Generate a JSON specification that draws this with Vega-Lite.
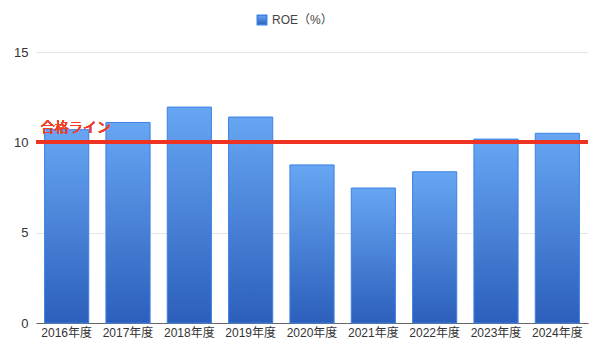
{
  "$schema": "https://vega.github.io/schema/vega-lite/v6.json",
  "autosize": "none",
  "width": 552,
  "height": 271,
  "padding": {"left": 36, "top": 52, "right": 12, "bottom": 30},
  "background": "#ffffff",
  "config": {
    "view": {"stroke": null},
    "font": "Liberation Sans, Noto Sans CJK JP",
    "axis": {"labelFont": "Liberation Sans, Noto Sans CJK JP", "labelColor": "#333333", "labelFontSize": 12}
  },
  "data": {
    "values": [
      {"year": "2016年度", "roe": 10.7, "series": "ROE（%）"},
      {"year": "2017年度", "roe": 11.1, "series": "ROE（%）"},
      {"year": "2018年度", "roe": 11.95, "series": "ROE（%）"},
      {"year": "2019年度", "roe": 11.4, "series": "ROE（%）"},
      {"year": "2020年度", "roe": 8.75, "series": "ROE（%）"},
      {"year": "2021年度", "roe": 7.47, "series": "ROE（%）"},
      {"year": "2022年度", "roe": 8.37, "series": "ROE（%）"},
      {"year": "2023年度", "roe": 10.18, "series": "ROE（%）"},
      {"year": "2024年度", "roe": 10.5, "series": "ROE（%）"}
    ]
  },
  "encoding": {
    "x": {
      "field": "year", "type": "nominal", "sort": null,
      "scale": {"paddingInner": 0.28, "paddingOuter": 0.14},
      "axis": {"title": null, "labelAngle": 0, "ticks": false, "domainColor": "#666666", "labelPadding": 4, "grid": false}
    }
  },
  "layer": [
    {
      "mark": {
        "type": "bar",
        "strokeWidth": 1,
        "fill": {"gradient": "linear", "x1": 0, "y1": 0, "x2": 0, "y2": 1,
          "stops": [{"offset": 0, "color": "#67a6f3"}, {"offset": 1, "color": "#2c5fbb"}]}
      },
      "encoding": {
        "y": {
          "field": "roe", "type": "quantitative",
          "scale": {"domain": [0, 15], "nice": false},
          "axis": {"title": null, "values": [0, 5, 10, 15], "ticks": false, "domain": false, "gridColor": "#e6e6e6", "labelPadding": 8, "labelFontSize": 13}
        },
        "stroke": {
          "field": "series", "type": "nominal",
          "scale": {"range": ["#3b82e6"]},
          "legend": {
            "title": null, "orient": "none", "legendX": 220, "legendY": -38,
            "symbolType": "square", "symbolSize": 90, "labelFontSize": 12, "labelColor": "#444444",
            "labelFont": "Liberation Sans, Noto Sans CJK JP",
            "encode": {"symbols": {"update": {"fill": {"value": {"gradient": "linear", "x1": 0, "y1": 0, "x2": 0, "y2": 1,
              "stops": [{"offset": 0, "color": "#67a6f3"}, {"offset": 1, "color": "#2c5fbb"}]}}, "stroke": {"value": "#3b82e6"}}}}
          }
        }
      }
    },
    {
      "mark": {"type": "rule", "color": "#ee3322", "strokeWidth": 3.5},
      "encoding": {"y": {"datum": 10, "type": "quantitative"}, "x": null}
    },
    {
      "mark": {"type": "text", "color": "#f03e2a", "fontSize": 14, "align": "left", "baseline": "middle", "dx": -26, "dy": -14, "font": "Noto Sans CJK JP"},
      "encoding": {
        "x": {"datum": "2016年度", "type": "nominal"},
        "y": {"datum": 10, "type": "quantitative"},
        "text": {"value": "合格ライン"}
      }
    }
  ]
}
